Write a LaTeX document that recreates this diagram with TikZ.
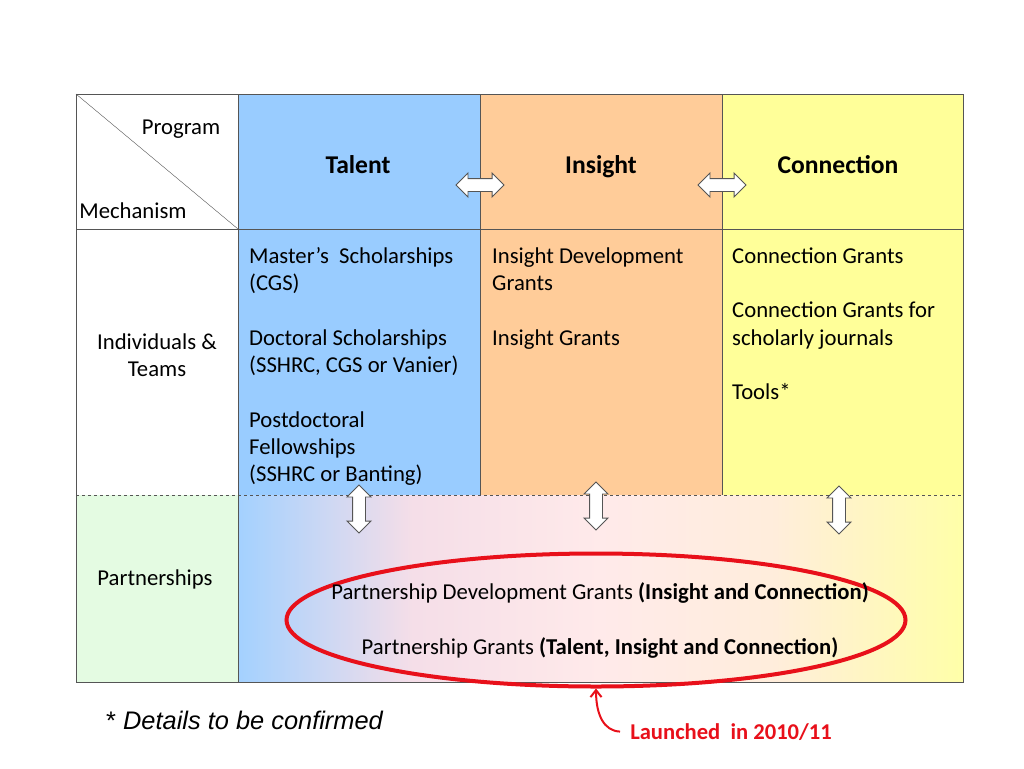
\documentclass[tikz,border=0pt]{standalone}
\usepackage{fontspec}
\setmainfont{Carlito}
\newfontfamily\arialfont{Liberation Sans}
\usetikzlibrary{shapes.arrows, shapes.geometric, arrows.meta}
\definecolor{talentblue}{HTML}{99CCFF}
\definecolor{insightorange}{HTML}{FFCC99}
\definecolor{connyellow}{HTML}{FFFF99}
\definecolor{partgreen}{HTML}{E4FBE2}
\definecolor{gridgray}{HTML}{555555}
\definecolor{launchred}{HTML}{E8101A}
\pgfdeclarehorizontalshading{partshade}{100bp}{color(0bp)=(talentblue!90!white); color(25bp)=(talentblue!90!white); color(37bp)=(blue!10!pink!40!white); color(50bp)=(red!6!pink!28!white); color(62bp)=(orange!14!white); color(75bp)=(connyellow!85!white); color(100bp)=(connyellow!85!white)}
\tikzset{
  celltext/.style={anchor=north west, inner sep=0pt, align=left, font=\fontsize{22.7}{27.3}\selectfont},
  sidetext/.style={inner sep=0pt, align=center, font=\fontsize{22.7}{27.3}\selectfont},
  headtext/.style={anchor=base, inner sep=0pt, font=\fontsize{25.6}{30}\selectfont\bfseries},
  linkarrow/.style={double arrow, draw=gridgray, fill=white, line width=0.9pt, inner sep=6pt, minimum height=48pt, double arrow head extend=5.5pt},
}
\begin{document}
\begin{tikzpicture}[x=1pt, y=-1pt]
  \useasboundingbox (0,0) rectangle (1024,768);
  \fill [talentblue] (238,94) rectangle (480,495);
  \fill [insightorange] (480,94) rectangle (722,495);
  \fill [connyellow] (722,94) rectangle (963,495);
  \fill [partgreen] (76,495) rectangle (238,682);
  \shade [shading=partshade] (238,495) rectangle (963,682);
  \draw [gridgray, dashed] (76,495) -- (963,495);
  \draw [gridgray] (76,229) -- (963,229);
  \draw [gridgray] (238,94) -- (238,682);
  \draw [gridgray] (480,94) -- (480,495);
  \draw [gridgray] (722,94) -- (722,495);
  \draw [gridgray] (76,94) -- (238,229);
  \draw [gridgray] (76,94) rectangle (963,682);
  \path (181,134) node [sidetext, anchor=base] (program) {Program};
  \path (133,218) node [sidetext, anchor=base] (mechanism) {Mechanism};
  \path (358,173) node [headtext] (talent) {Talent};
  \path (601,173) node [headtext] (insight) {Insight};
  \path (838,173) node [headtext] (connection) {Connection};
  \path (480,185) node [linkarrow] (talentinsight) {};
  \path (722,185) node [linkarrow] (insightconn) {};
  \path (157,355) node [sidetext] (teams) {Individuals \&\\Teams};
  \path (155,585) node [sidetext, anchor=base] (partnerships) {Partnerships};
  \path (249,244) node [celltext] (talentgrants) {\strut Master’s~ Scholarships\\(CGS)\\[27.3pt]Doctoral Scholarships\\(SSHRC, CGS or Vanier)\\[27.3pt]Postdoctoral\\Fellowships\\(SSHRC or Banting)};
  \path (492,244) node [celltext] (insightgrants) {\strut Insight Development\\Grants\\[27.3pt]Insight Grants};
  \path (732,244) node [celltext] (conngrants) {\strut Connection Grants\\[27.3pt]Connection Grants for\\scholarly journals\\[27.3pt]Tools*};
  \path (359,509) node [linkarrow, rotate=90] (talentdown) {};
  \path (596,506) node [linkarrow, rotate=90] (insightdown) {};
  \path (839,510) node [linkarrow, rotate=90] (conndown) {};
  \path (596,620) node [ellipse, draw=launchred, line width=4pt, minimum width=619pt, minimum height=133pt] (launchoval) {};
  \path (600,599) node [sidetext, anchor=base] (pdg) {Partnership Development Grants \textbf{(Insight and Connection)}};
  \path (600,654) node [sidetext, anchor=base] (pg) {Partnership Grants \textbf{(Talent, Insight and Connection)}};
  \path (731,739) node [sidetext, anchor=base, text=launchred, font=\fontsize{22.6}{27}\selectfont\bfseries] (launched) {Launched~ in 2010/11};
  \draw [launchred, line width=2pt, -{Straight Barb[length=7pt, width=11pt]}] ([xshift=-10pt]launched.west) .. controls (604,731) and (596,715) .. (launchoval.south);
  \path (106,720) node [anchor=west, inner sep=0pt, font=\arialfont\fontsize{25.4}{30}\selectfont] (footnote) {* \itshape Details to be confirmed};
\end{tikzpicture}
\end{document}
